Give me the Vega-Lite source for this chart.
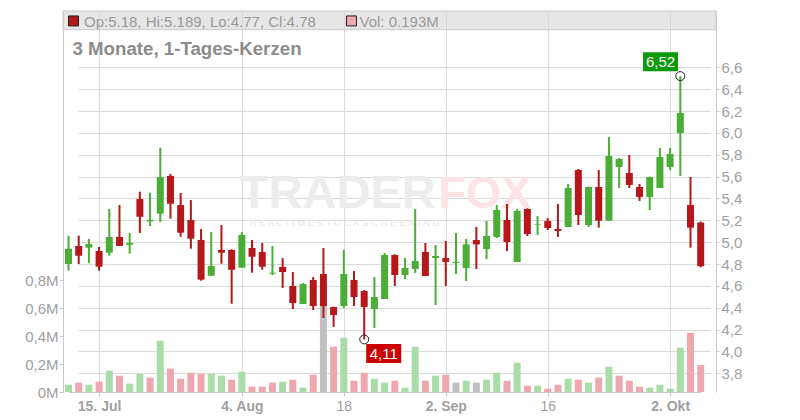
{
  "$schema": "https://vega.github.io/schema/vega-lite/v6.json",
  "width": 653,
  "height": 381,
  "autosize": "none",
  "padding": {"left": 63, "top": 11, "right": 84, "bottom": 28},
  "background": "white",
  "config": {
    "view": {"stroke": null},
    "font": "Liberation Sans",
    "locale": {"number": {"decimal": ",", "thousands": ".", "grouping": [3], "currency": ["", " €"]}}
  },
  "title": {
    "text": "3 Monate, 1-Tages-Kerzen",
    "anchor": "start",
    "frame": "group",
    "orient": "top",
    "offset": -63,
    "baseline": "alphabetic",
    "dx": 9.4,
    "fontSize": 18.7,
    "fontWeight": "bold",
    "color": "#8c8c8c",
    "font": "Liberation Sans"
  },
  "data": {
    "values": [
      {"date": "2025-07-10", "open": 4.80, "high": 5.06, "low": 4.74, "close": 4.94, "volume": 52000, "dir": "up"},
      {"date": "2025-07-11", "open": 4.965, "high": 5.06, "low": 4.80, "close": 4.876, "volume": 67000, "dir": "down"},
      {"date": "2025-07-14", "open": 4.95, "high": 5.03, "low": 4.81, "close": 4.983, "volume": 52000, "dir": "up"},
      {"date": "2025-07-15", "open": 4.92, "high": 4.956, "low": 4.74, "close": 4.776, "volume": 74000, "dir": "down"},
      {"date": "2025-07-16", "open": 4.904, "high": 5.304, "low": 4.876, "close": 5.048, "volume": 153000, "dir": "up"},
      {"date": "2025-07-17", "open": 5.048, "high": 5.34, "low": 4.965, "close": 4.965, "volume": 117000, "dir": "down"},
      {"date": "2025-07-18", "open": 4.977, "high": 5.084, "low": 4.895, "close": 4.993, "volume": 60000, "dir": "up"},
      {"date": "2025-07-21", "open": 5.395, "high": 5.462, "low": 5.084, "close": 5.233, "volume": 131000, "dir": "up"},
      {"date": "2025-07-22", "open": 5.19, "high": 5.453, "low": 5.148, "close": 5.205, "volume": 103000, "dir": "down"},
      {"date": "2025-07-23", "open": 5.261, "high": 5.865, "low": 5.185, "close": 5.597, "volume": 368000, "dir": "up"},
      {"date": "2025-07-24", "open": 5.606, "high": 5.624, "low": 5.215, "close": 5.352, "volume": 167000, "dir": "down"},
      {"date": "2025-07-25", "open": 5.34, "high": 5.45, "low": 5.05, "close": 5.087, "volume": 95000, "dir": "down"},
      {"date": "2025-07-28", "open": 5.203, "high": 5.386, "low": 4.94, "close": 5.032, "volume": 138000, "dir": "down"},
      {"date": "2025-07-29", "open": 5.02, "high": 5.121, "low": 4.648, "close": 4.657, "volume": 131000, "dir": "down"},
      {"date": "2025-07-30", "open": 4.693, "high": 5.093, "low": 4.693, "close": 4.782, "volume": 131000, "dir": "up"},
      {"date": "2025-07-31", "open": 4.929, "high": 5.157, "low": 4.803, "close": 4.904, "volume": 117000, "dir": "up"},
      {"date": "2025-08-01", "open": 4.929, "high": 4.935, "low": 4.437, "close": 4.748, "volume": 88000, "dir": "down"},
      {"date": "2025-08-04", "open": 4.767, "high": 5.093, "low": 4.767, "close": 5.066, "volume": 145000, "dir": "up"},
      {"date": "2025-08-05", "open": 4.947, "high": 5.02, "low": 4.721, "close": 4.867, "volume": 38000, "dir": "down"},
      {"date": "2025-08-06", "open": 4.91, "high": 4.993, "low": 4.748, "close": 4.776, "volume": 38000, "dir": "down"},
      {"date": "2025-08-07", "open": 4.712, "high": 4.965, "low": 4.70, "close": 4.721, "volume": 67000, "dir": "down"},
      {"date": "2025-08-08", "open": 4.773, "high": 4.855, "low": 4.581, "close": 4.727, "volume": 74000, "dir": "up"},
      {"date": "2025-08-11", "open": 4.599, "high": 4.727, "low": 4.389, "close": 4.443, "volume": 88000, "dir": "down"},
      {"date": "2025-08-12", "open": 4.434, "high": 4.626, "low": 4.434, "close": 4.617, "volume": 31000, "dir": "up"},
      {"date": "2025-08-13", "open": 4.654, "high": 4.681, "low": 4.379, "close": 4.416, "volume": 124000, "dir": "down"},
      {"date": "2025-08-14", "open": 4.709, "high": 4.947, "low": 4.306, "close": 4.416, "volume": 700000, "dir": "flat"},
      {"date": "2025-08-15", "open": 4.407, "high": 4.41, "low": 4.224, "close": 4.334, "volume": 325000, "dir": "down"},
      {"date": "2025-08-18", "open": 4.416, "high": 4.929, "low": 4.398, "close": 4.709, "volume": 389000, "dir": "up"},
      {"date": "2025-08-19", "open": 4.654, "high": 4.736, "low": 4.416, "close": 4.498, "volume": 81000, "dir": "down"},
      {"date": "2025-08-20", "open": 4.553, "high": 4.562, "low": 4.11, "close": 4.407, "volume": 138000, "dir": "down"},
      {"date": "2025-08-21", "open": 4.389, "high": 4.681, "low": 4.215, "close": 4.498, "volume": 95000, "dir": "up"},
      {"date": "2025-08-22", "open": 4.48, "high": 4.901, "low": 4.48, "close": 4.883, "volume": 67000, "dir": "up"},
      {"date": "2025-08-25", "open": 4.883, "high": 4.89, "low": 4.599, "close": 4.70, "volume": 81000, "dir": "down"},
      {"date": "2025-08-26", "open": 4.70, "high": 4.855, "low": 4.663, "close": 4.764, "volume": 31000, "dir": "up"},
      {"date": "2025-08-27", "open": 4.755, "high": 5.304, "low": 4.718, "close": 4.828, "volume": 325000, "dir": "up"},
      {"date": "2025-08-28", "open": 4.91, "high": 4.993, "low": 4.69, "close": 4.691, "volume": 81000, "dir": "down"},
      {"date": "2025-08-29", "open": 4.855, "high": 4.974, "low": 4.425, "close": 4.874, "volume": 117000, "dir": "up"},
      {"date": "2025-09-02", "open": 4.855, "high": 5.011, "low": 4.599, "close": 4.82, "volume": 124000, "dir": "down"},
      {"date": "2025-09-03", "open": 4.81, "high": 5.084, "low": 4.709, "close": 4.82, "volume": 67000, "dir": "flat"},
      {"date": "2025-09-04", "open": 4.764, "high": 5.029, "low": 4.645, "close": 4.98, "volume": 81000, "dir": "up"},
      {"date": "2025-09-05", "open": 5.02, "high": 5.139, "low": 4.755, "close": 4.98, "volume": 67000, "dir": "flat"},
      {"date": "2025-09-08", "open": 4.938, "high": 5.194, "low": 4.846, "close": 5.057, "volume": 88000, "dir": "up"},
      {"date": "2025-09-09", "open": 5.048, "high": 5.34, "low": 5.038, "close": 5.295, "volume": 138000, "dir": "up"},
      {"date": "2025-09-10", "open": 5.203, "high": 5.35, "low": 4.919, "close": 5.002, "volume": 81000, "dir": "down"},
      {"date": "2025-09-11", "open": 4.819, "high": 5.304, "low": 4.819, "close": 5.286, "volume": 209000, "dir": "up"},
      {"date": "2025-09-12", "open": 5.304, "high": 5.31, "low": 5.057, "close": 5.075, "volume": 45000, "dir": "down"},
      {"date": "2025-09-15", "open": 5.16, "high": 5.24, "low": 5.066, "close": 5.165, "volume": 45000, "dir": "up"},
      {"date": "2025-09-16", "open": 5.194, "high": 5.221, "low": 5.112, "close": 5.13, "volume": 24000, "dir": "down"},
      {"date": "2025-09-17", "open": 5.121, "high": 5.35, "low": 5.048, "close": 5.102, "volume": 52000, "dir": "down"},
      {"date": "2025-09-18", "open": 5.139, "high": 5.533, "low": 5.139, "close": 5.496, "volume": 95000, "dir": "up"},
      {"date": "2025-09-19", "open": 5.661, "high": 5.67, "low": 5.157, "close": 5.249, "volume": 88000, "dir": "down"},
      {"date": "2025-09-22", "open": 5.157, "high": 5.51, "low": 5.139, "close": 5.505, "volume": 67000, "dir": "up"},
      {"date": "2025-09-23", "open": 5.505, "high": 5.661, "low": 5.133, "close": 5.197, "volume": 103000, "dir": "down"},
      {"date": "2025-09-24", "open": 5.197, "high": 5.963, "low": 5.197, "close": 5.789, "volume": 181000, "dir": "up"},
      {"date": "2025-09-25", "open": 5.688, "high": 5.77, "low": 5.496, "close": 5.761, "volume": 117000, "dir": "down"},
      {"date": "2025-09-26", "open": 5.633, "high": 5.798, "low": 5.496, "close": 5.524, "volume": 81000, "dir": "down"},
      {"date": "2025-09-29", "open": 5.505, "high": 5.533, "low": 5.377, "close": 5.414, "volume": 38000, "dir": "down"},
      {"date": "2025-09-30", "open": 5.414, "high": 5.60, "low": 5.295, "close": 5.597, "volume": 31000, "dir": "up"},
      {"date": "2025-10-01", "open": 5.496, "high": 5.862, "low": 5.496, "close": 5.78, "volume": 52000, "dir": "up"},
      {"date": "2025-10-02", "open": 5.688, "high": 5.862, "low": 5.661, "close": 5.807, "volume": 24000, "dir": "up"},
      {"date": "2025-10-03", "open": 5.999, "high": 6.52, "low": 5.606, "close": 6.183, "volume": 318000, "dir": "up"},
      {"date": "2025-10-06", "open": 5.34, "high": 5.597, "low": 4.95, "close": 5.133, "volume": 425000, "dir": "down"},
      {"date": "2025-10-07", "open": 5.18, "high": 5.189, "low": 4.77, "close": 4.78, "volume": 193000, "dir": "down"}
    ]
  },
  "encoding": {
    "x": {
      "field": "date",
      "type": "ordinal",
      "title": null,
      "scale": {"type": "point", "range": [5.5, 637.7], "padding": 0},
      "axis": {
        "values": ["2025-07-15", "2025-08-04", "2025-08-18", "2025-09-02", "2025-09-16", "2025-10-02"],
        "labelExpr": "datum.value == '2025-07-15' ? '15. Jul' : datum.value == '2025-08-04' ? '4. Aug' : datum.value == '2025-08-18' ? '18' : datum.value == '2025-09-02' ? '2. Sep' : datum.value == '2025-09-16' ? '16' : '2. Okt'",
        "labelFontWeight": {"condition": {"test": "datum.value == '2025-08-18' || datum.value == '2025-09-16'", "value": "normal"}, "value": "bold"},
        "labelAngle": 0,
        "labelFontSize": 14,
        "labelColor": "#a0a0a0",
        "labelPadding": 3,
        "tickSize": 4,
        "tickColor": "#c8c8c8",
        "domainColor": "#c8c8c8",
        "grid": true,
        "gridColor": "#dadada",
        "labelOverlap": false
      }
    }
  },
  "layer": [
    {
      "mark": {"type": "bar", "width": 7},
      "encoding": {
        "y": {
          "field": "volume",
          "type": "quantitative",
          "title": null,
          "scale": {"domain": [0, 2732000], "nice": false, "zero": true},
          "axis": {
            "orient": "left",
            "values": [0, 200000, 400000, 600000, 800000],
            "labelExpr": "replace(format(datum.value / 1000000, '.1~f'), '.', ',') + 'M'",
            "grid": false,
            "labelOverlap": false,
            "labelFontSize": 15,
            "labelColor": "#a0a0a0",
            "labelPadding": 1,
            "tickSize": 4,
            "tickColor": "#c8c8c8",
            "domainColor": "#c8c8c8"
          }
        },
        "color": {
          "field": "dir",
          "type": "nominal",
          "scale": {"domain": ["up", "down", "flat"], "range": ["#a9dca6", "#eea7ae", "#c0c0c0"]},
          "legend": null
        }
      }
    },
    {
      "layer": [
        {
          "data": {"values": [{}]},
          "mark": {"type": "text", "align": "left", "baseline": "alphabetic", "fontSize": 47, "fontWeight": "bold", "fill": "#ececec", "dx": -2},
          "encoding": {
            "x": {"datum": "2025-08-04", "type": "ordinal"},
            "y": {"datum": 5.313, "type": "quantitative", "title": null, "scale": {"domain": [3.629, 7.116], "nice": false, "zero": false}, "axis": {"orient": "right", "values": [3.8, 4.0, 4.2, 4.4, 4.6, 4.8, 5.0, 5.2, 5.4, 5.6, 5.8, 6.0, 6.2, 6.4, 6.6], "labelExpr": "replace(format(datum.value, '.1f'), '.', ',')", "labelOverlap": false, "grid": true, "gridColor": "#dadada", "labelFontSize": 15, "labelColor": "#a0a0a0", "labelPadding": 2, "tickSize": 3, "tickColor": "#c8c8c8", "domainColor": "#c8c8c8"}},
            "text": {"value": "TRADER"}
          }
        },
        {
          "data": {"values": [{}]},
          "mark": {"type": "text", "align": "left", "baseline": "alphabetic", "fontSize": 45, "fontWeight": "bold", "fill": "#fde3e6", "dx": 3},
          "encoding": {
            "x": {"datum": "2025-08-29", "type": "ordinal"},
            "y": {"datum": 5.313, "type": "quantitative", "title": null, "axis": {"orient": "right", "values": [3.8, 4.0, 4.2, 4.4, 4.6, 4.8, 5.0, 5.2, 5.4, 5.6, 5.8, 6.0, 6.2, 6.4, 6.6], "labelExpr": "replace(format(datum.value, '.1f'), '.', ',')", "labelOverlap": false, "grid": true, "gridColor": "#dadada", "labelFontSize": 15, "labelColor": "#a0a0a0", "labelPadding": 2, "tickSize": 3, "tickColor": "#c8c8c8", "domainColor": "#c8c8c8"}},
            "text": {"value": "FOX"}
          }
        },
        {
          "data": {"values": [{}]},
          "mark": {"type": "text", "align": "left", "baseline": "middle", "fontSize": 9.5, "fill": "#e6e6e6", "dx": 8},
          "encoding": {
            "x": {"datum": "2025-08-04", "type": "ordinal"},
            "y": {"datum": 5.18, "type": "quantitative", "title": null, "axis": {"orient": "right", "values": [3.8, 4.0, 4.2, 4.4, 4.6, 4.8, 5.0, 5.2, 5.4, 5.6, 5.8, 6.0, 6.2, 6.4, 6.6], "labelExpr": "replace(format(datum.value, '.1f'), '.', ',')", "labelOverlap": false, "grid": true, "gridColor": "#dadada", "labelFontSize": 15, "labelColor": "#a0a0a0", "labelPadding": 2, "tickSize": 3, "tickColor": "#c8c8c8", "domainColor": "#c8c8c8"}},
            "text": {"value": "R E A L T I M E  S T O C K  S C R E E N I N G"}
          }
        },
        {
          "mark": {"type": "rule", "strokeWidth": 2},
          "encoding": {
            "y": {"field": "low", "type": "quantitative", "title": null, "axis": {"orient": "right", "values": [3.8, 4.0, 4.2, 4.4, 4.6, 4.8, 5.0, 5.2, 5.4, 5.6, 5.8, 6.0, 6.2, 6.4, 6.6], "labelExpr": "replace(format(datum.value, '.1f'), '.', ',')", "labelOverlap": false, "grid": true, "gridColor": "#dadada", "labelFontSize": 15, "labelColor": "#a0a0a0", "labelPadding": 2, "tickSize": 3, "tickColor": "#c8c8c8", "domainColor": "#c8c8c8"}},
            "y2": {"field": "high"},
            "color": {"condition": {"test": "datum.close >= datum.open", "value": "#4aad36"}, "value": "#b5171b"}
          }
        },
        {
          "mark": {"type": "bar", "width": 7},
          "encoding": {
            "y": {"field": "open", "type": "quantitative", "title": null, "axis": {"orient": "right", "values": [3.8, 4.0, 4.2, 4.4, 4.6, 4.8, 5.0, 5.2, 5.4, 5.6, 5.8, 6.0, 6.2, 6.4, 6.6], "labelExpr": "replace(format(datum.value, '.1f'), '.', ',')", "labelOverlap": false, "grid": true, "gridColor": "#dadada", "labelFontSize": 15, "labelColor": "#a0a0a0", "labelPadding": 2, "tickSize": 3, "tickColor": "#c8c8c8", "domainColor": "#c8c8c8"}},
            "y2": {"field": "close"},
            "color": {"condition": {"test": "datum.close >= datum.open", "value": "#4aad36"}, "value": "#b5171b"}
          }
        },
        {
          "transform": [{"filter": "datum.high == 6.52"}],
          "mark": {"type": "point", "shape": "circle", "size": 80, "filled": false, "stroke": "#222222", "strokeWidth": 1, "opacity": 1},
          "encoding": {"y": {"field": "high", "type": "quantitative", "title": null, "axis": {"orient": "right", "values": [3.8, 4.0, 4.2, 4.4, 4.6, 4.8, 5.0, 5.2, 5.4, 5.6, 5.8, 6.0, 6.2, 6.4, 6.6], "labelExpr": "replace(format(datum.value, '.1f'), '.', ',')", "labelOverlap": false, "grid": true, "gridColor": "#dadada", "labelFontSize": 15, "labelColor": "#a0a0a0", "labelPadding": 2, "tickSize": 3, "tickColor": "#c8c8c8", "domainColor": "#c8c8c8"}}}
        },
        {
          "transform": [{"filter": "datum.low == 4.11"}],
          "mark": {"type": "point", "shape": "circle", "size": 80, "filled": false, "stroke": "#222222", "strokeWidth": 1, "opacity": 1},
          "encoding": {"y": {"field": "low", "type": "quantitative", "title": null, "axis": {"orient": "right", "values": [3.8, 4.0, 4.2, 4.4, 4.6, 4.8, 5.0, 5.2, 5.4, 5.6, 5.8, 6.0, 6.2, 6.4, 6.6], "labelExpr": "replace(format(datum.value, '.1f'), '.', ',')", "labelOverlap": false, "grid": true, "gridColor": "#dadada", "labelFontSize": 15, "labelColor": "#a0a0a0", "labelPadding": 2, "tickSize": 3, "tickColor": "#c8c8c8", "domainColor": "#c8c8c8"}}}
        },
        {
          "transform": [{"filter": "datum.high == 6.52"}],
          "mark": {"type": "point", "shape": "M-1.842,-1H1.842V1H-1.842Z", "size": 361, "filled": true, "fill": "#0a9a0a", "opacity": 1, "strokeWidth": 0, "xOffset": -19.8, "yOffset": -14.4},
          "encoding": {"y": {"field": "high", "type": "quantitative", "title": null, "axis": {"orient": "right", "values": [3.8, 4.0, 4.2, 4.4, 4.6, 4.8, 5.0, 5.2, 5.4, 5.6, 5.8, 6.0, 6.2, 6.4, 6.6], "labelExpr": "replace(format(datum.value, '.1f'), '.', ',')", "labelOverlap": false, "grid": true, "gridColor": "#dadada", "labelFontSize": 15, "labelColor": "#a0a0a0", "labelPadding": 2, "tickSize": 3, "tickColor": "#c8c8c8", "domainColor": "#c8c8c8"}}}
        },
        {
          "transform": [{"filter": "datum.high == 6.52"}],
          "mark": {"type": "text", "fill": "white", "fontSize": 15, "align": "center", "baseline": "middle", "dx": -19.8, "dy": -14.2},
          "encoding": {
            "y": {"field": "high", "type": "quantitative", "title": null, "axis": {"orient": "right", "values": [3.8, 4.0, 4.2, 4.4, 4.6, 4.8, 5.0, 5.2, 5.4, 5.6, 5.8, 6.0, 6.2, 6.4, 6.6], "labelExpr": "replace(format(datum.value, '.1f'), '.', ',')", "labelOverlap": false, "grid": true, "gridColor": "#dadada", "labelFontSize": 15, "labelColor": "#a0a0a0", "labelPadding": 2, "tickSize": 3, "tickColor": "#c8c8c8", "domainColor": "#c8c8c8"}},
            "text": {"field": "high", "type": "quantitative", "format": ".2f"}
          }
        },
        {
          "transform": [{"filter": "datum.low == 4.11"}],
          "mark": {"type": "point", "shape": "M-1.842,-1H1.842V1H-1.842Z", "size": 361, "filled": true, "fill": "#cc0000", "opacity": 1, "strokeWidth": 0, "xOffset": 19.5, "yOffset": 14.1},
          "encoding": {"y": {"field": "low", "type": "quantitative", "title": null, "axis": {"orient": "right", "values": [3.8, 4.0, 4.2, 4.4, 4.6, 4.8, 5.0, 5.2, 5.4, 5.6, 5.8, 6.0, 6.2, 6.4, 6.6], "labelExpr": "replace(format(datum.value, '.1f'), '.', ',')", "labelOverlap": false, "grid": true, "gridColor": "#dadada", "labelFontSize": 15, "labelColor": "#a0a0a0", "labelPadding": 2, "tickSize": 3, "tickColor": "#c8c8c8", "domainColor": "#c8c8c8"}}}
        },
        {
          "transform": [{"filter": "datum.low == 4.11"}],
          "mark": {"type": "text", "fill": "white", "fontSize": 15, "align": "center", "baseline": "middle", "dx": 19.5, "dy": 14.3},
          "encoding": {
            "y": {"field": "low", "type": "quantitative", "title": null, "axis": {"orient": "right", "values": [3.8, 4.0, 4.2, 4.4, 4.6, 4.8, 5.0, 5.2, 5.4, 5.6, 5.8, 6.0, 6.2, 6.4, 6.6], "labelExpr": "replace(format(datum.value, '.1f'), '.', ',')", "labelOverlap": false, "grid": true, "gridColor": "#dadada", "labelFontSize": 15, "labelColor": "#a0a0a0", "labelPadding": 2, "tickSize": 3, "tickColor": "#c8c8c8", "domainColor": "#c8c8c8"}},
            "text": {"field": "low", "type": "quantitative", "format": ".2f"}
          }
        },
        {
          "data": {"values": [{}]},
          "mark": {"type": "rect", "fill": "#d6d6d6", "fillOpacity": 0.62, "stroke": "#cccccc", "strokeWidth": 1},
          "encoding": {
            "x": {"value": 0},
            "x2": {"value": "width"},
            "y": {"datum": 7.116, "type": "quantitative", "title": null, "axis": {"orient": "right", "values": [3.8, 4.0, 4.2, 4.4, 4.6, 4.8, 5.0, 5.2, 5.4, 5.6, 5.8, 6.0, 6.2, 6.4, 6.6], "labelExpr": "replace(format(datum.value, '.1f'), '.', ',')", "labelOverlap": false, "grid": true, "gridColor": "#dadada", "labelFontSize": 15, "labelColor": "#a0a0a0", "labelPadding": 2, "tickSize": 3, "tickColor": "#c8c8c8", "domainColor": "#c8c8c8"}},
            "y2": {"datum": 6.945}
          }
        },
        {
          "data": {"values": [{}]},
          "mark": {"type": "point", "shape": "square", "size": 100, "filled": true, "fill": "#b5171b", "stroke": "#222222", "strokeWidth": 1, "opacity": 1, "xOffset": 5},
          "encoding": {
            "x": {"datum": "2025-07-10", "type": "ordinal"},
            "y": {"datum": 7.025, "type": "quantitative", "title": null, "axis": {"orient": "right", "values": [3.8, 4.0, 4.2, 4.4, 4.6, 4.8, 5.0, 5.2, 5.4, 5.6, 5.8, 6.0, 6.2, 6.4, 6.6], "labelExpr": "replace(format(datum.value, '.1f'), '.', ',')", "labelOverlap": false, "grid": true, "gridColor": "#dadada", "labelFontSize": 15, "labelColor": "#a0a0a0", "labelPadding": 2, "tickSize": 3, "tickColor": "#c8c8c8", "domainColor": "#c8c8c8"}}
          }
        },
        {
          "data": {"values": [{}]},
          "mark": {"type": "text", "align": "left", "baseline": "alphabetic", "fontSize": 15, "fill": "#9a9a9a", "dx": 15.5},
          "encoding": {
            "x": {"datum": "2025-07-10", "type": "ordinal"},
            "y": {"datum": 6.972, "type": "quantitative", "title": null, "axis": {"orient": "right", "values": [3.8, 4.0, 4.2, 4.4, 4.6, 4.8, 5.0, 5.2, 5.4, 5.6, 5.8, 6.0, 6.2, 6.4, 6.6], "labelExpr": "replace(format(datum.value, '.1f'), '.', ',')", "labelOverlap": false, "grid": true, "gridColor": "#dadada", "labelFontSize": 15, "labelColor": "#a0a0a0", "labelPadding": 2, "tickSize": 3, "tickColor": "#c8c8c8", "domainColor": "#c8c8c8"}},
            "text": {"value": "Op:5.18, Hi:5.189, Lo:4.77, Cl:4.78"}
          }
        },
        {
          "data": {"values": [{}]},
          "mark": {"type": "point", "shape": "square", "size": 100, "filled": true, "fill": "#eea7ae", "stroke": "#222222", "strokeWidth": 1, "opacity": 1, "xOffset": 7.7},
          "encoding": {
            "x": {"datum": "2025-08-18", "type": "ordinal"},
            "y": {"datum": 7.025, "type": "quantitative", "title": null, "axis": {"orient": "right", "values": [3.8, 4.0, 4.2, 4.4, 4.6, 4.8, 5.0, 5.2, 5.4, 5.6, 5.8, 6.0, 6.2, 6.4, 6.6], "labelExpr": "replace(format(datum.value, '.1f'), '.', ',')", "labelOverlap": false, "grid": true, "gridColor": "#dadada", "labelFontSize": 15, "labelColor": "#a0a0a0", "labelPadding": 2, "tickSize": 3, "tickColor": "#c8c8c8", "domainColor": "#c8c8c8"}}
          }
        },
        {
          "data": {"values": [{}]},
          "mark": {"type": "text", "align": "left", "baseline": "alphabetic", "fontSize": 15, "fill": "#9a9a9a", "dx": 15.7},
          "encoding": {
            "x": {"datum": "2025-08-18", "type": "ordinal"},
            "y": {"datum": 6.972, "type": "quantitative", "title": null, "axis": {"orient": "right", "values": [3.8, 4.0, 4.2, 4.4, 4.6, 4.8, 5.0, 5.2, 5.4, 5.6, 5.8, 6.0, 6.2, 6.4, 6.6], "labelExpr": "replace(format(datum.value, '.1f'), '.', ',')", "labelOverlap": false, "grid": true, "gridColor": "#dadada", "labelFontSize": 15, "labelColor": "#a0a0a0", "labelPadding": 2, "tickSize": 3, "tickColor": "#c8c8c8", "domainColor": "#c8c8c8"}},
            "text": {"value": "Vol: 0.193M"}
          }
        }
      ]
    }
  ],
  "resolve": {"scale": {"y": "independent"}, "axis": {"y": "independent"}}
}
